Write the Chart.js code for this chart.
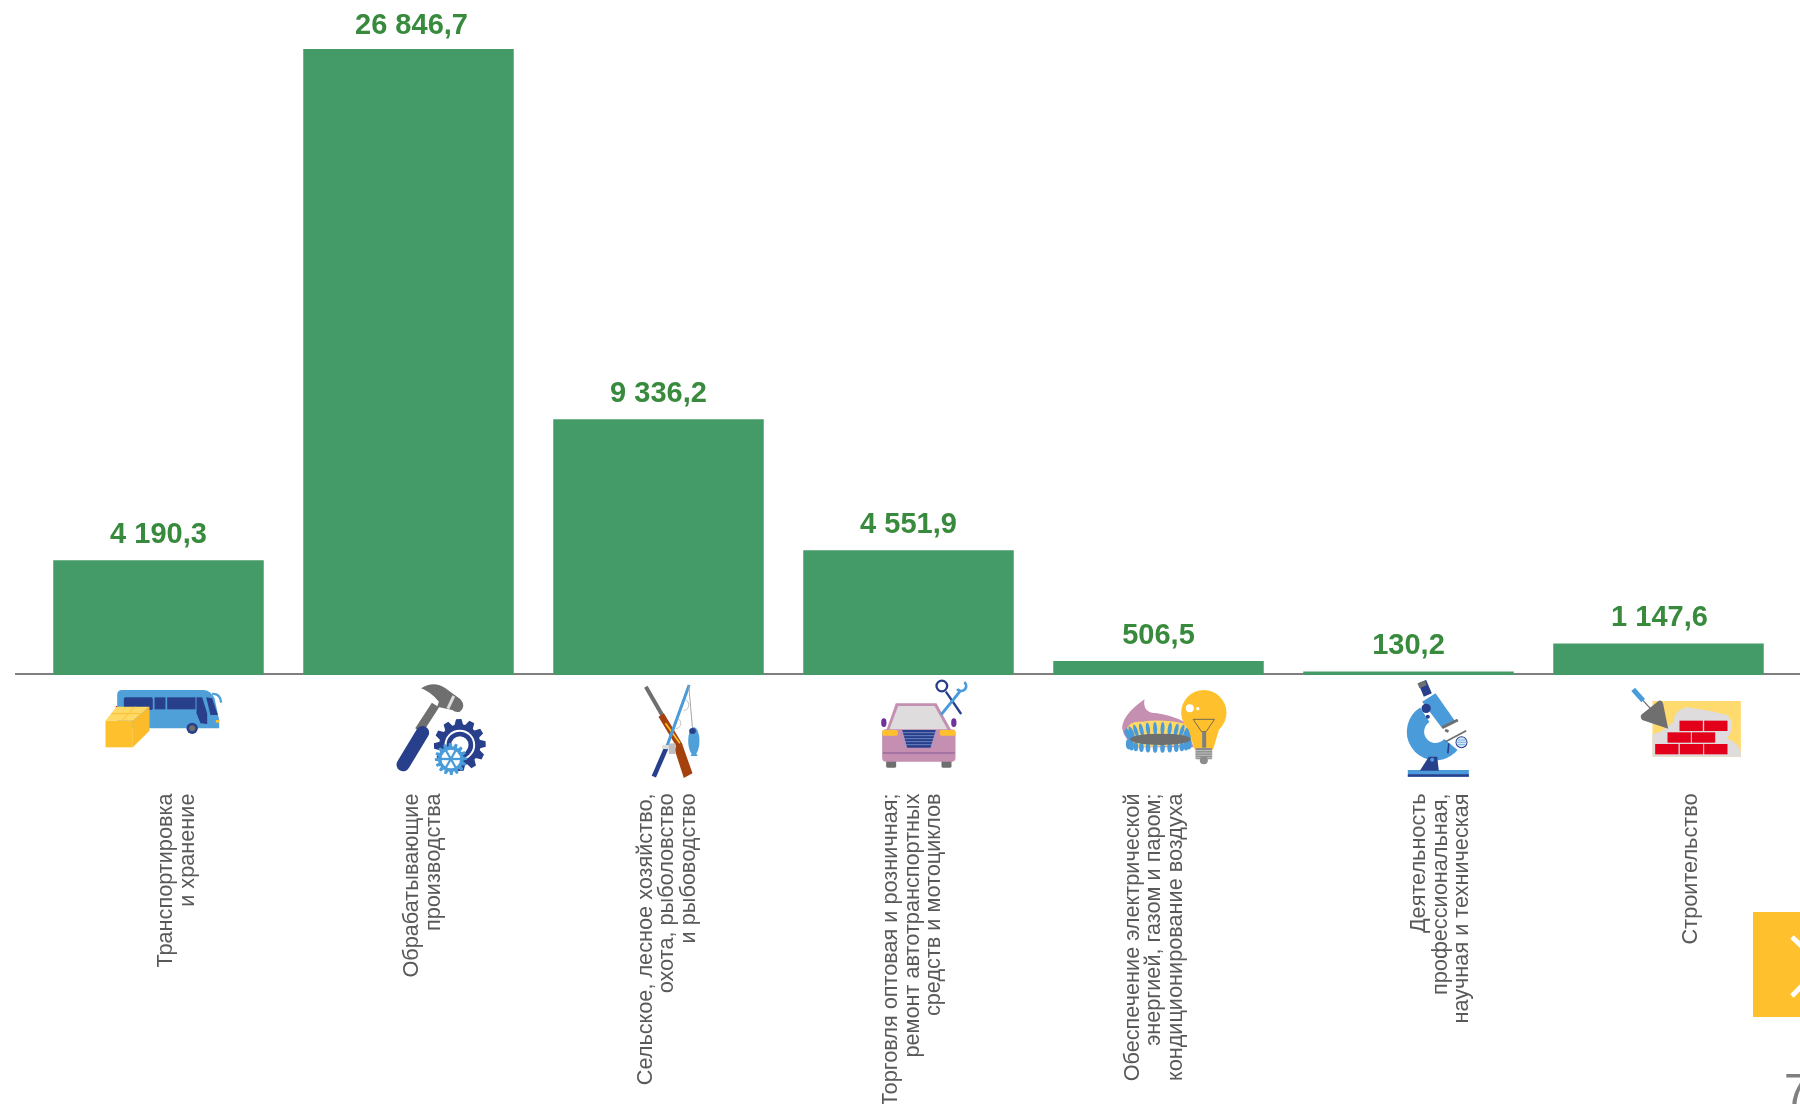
<!DOCTYPE html>
<html>
<head>
<meta charset="utf-8">
<title>Chart</title>
<script src="https://cdn.jsdelivr.net/npm/chart.js@4"></script>
<style>
  html, body { margin: 0; padding: 0; background: #fff; overflow: hidden; }
  canvas { display: block; }
</style>
</head>
<body>
<canvas id="chart" width="1800" height="1104"></canvas>
<script>
const categories = [
  ['Транспортировка', 'и хранение'],
  ['Обрабатывающие', 'производства'],
  ['Сельское, лесное хозяйство,', 'охота, рыболовство', 'и рыбоводство'],
  ['Торговля оптовая и розничная;', 'ремонт автотранспортных', 'средств и мотоциклов'],
  ['Обеспечение электрической', 'энергией, газом и паром;', 'кондиционирование воздуха'],
  ['Деятельность', 'профессиональная,', 'научная и техническая'],
  ['Строительство']
];
const values = [4190.3, 26846.7, 9336.2, 4551.9, 506.5, 130.2, 1147.6];
// the tall bar runs off the top of the axis in the original
const axisMax = 22850;

// how far each label block sits from the middle of its bar
const labelShift = [18.5, 14.5, 9, 4.5, -4, 32.5, 33];
const valueShift = [0, 3, 0, 0, 0, 0, 1];

const GREEN = '#459b68';
const BLUE = '#4f9fd8';
const NAVY = '#28408c';
const YELLOW = '#ffc02d';
const PALE = '#ffd966';
const GREY = '#6f6f6f';
const PINK = '#c48fb0';
const LIGHT = '#dedcdc';

const fmt = (v) => v.toFixed(1).replace('.', ',').replace(/\B(?=(\d{3})+(?!\d))/, ' ');

function poly(ctx, pts, fill) {
  ctx.beginPath();
  pts.forEach((p, i) => (i ? ctx.lineTo(p[0], p[1]) : ctx.moveTo(p[0], p[1])));
  ctx.closePath();
  ctx.fillStyle = fill;
  ctx.fill();
}
function line(ctx, x1, y1, x2, y2, w, color, cap) {
  ctx.beginPath();
  ctx.moveTo(x1, y1);
  ctx.lineTo(x2, y2);
  ctx.lineWidth = w;
  ctx.strokeStyle = color;
  ctx.lineCap = cap || 'butt';
  ctx.stroke();
}
function dot(ctx, x, y, r, fill) {
  ctx.beginPath();
  ctx.arc(x, y, r, 0, Math.PI * 2);
  ctx.fillStyle = fill;
  ctx.fill();
}
function rect(ctx, x, y, w, h, fill, r) {
  ctx.beginPath();
  ctx.roundRect(x, y, w, h, r || 0);
  ctx.fillStyle = fill;
  ctx.fill();
}
function gear(ctx, cx, cy, rOut, rIn, teeth, fill) {
  ctx.beginPath();
  for (let i = 0; i < teeth; i++) {
    const a = (i / teeth) * Math.PI * 2;
    const s = (Math.PI * 2) / teeth;
    [[rIn, -0.5], [rOut, -0.28], [rOut, 0.12], [rIn, 0.3]].forEach((p) => {
      const t = a + p[1] * s;
      ctx.lineTo(cx + p[0] * Math.cos(t), cy + p[0] * Math.sin(t));
    });
  }
  ctx.closePath();
  ctx.fillStyle = fill;
  ctx.fill();
}

// icons are drawn at 3x, origin = offset from bar middle / baseline
const icons = [
  { dx: -68, dy: -15, draw(ctx) {
    rect(ctx, 76, 138, 6, 16, '#e2001a');
    ctx.beginPath();
    ctx.moveTo(80, 205); ctx.lineTo(80, 105);
    ctx.quadraticCurveTo(80, 90, 95, 90);
    ctx.lineTo(340, 90);
    ctx.quadraticCurveTo(362, 92, 372, 115);
    ctx.lineTo(386, 180); ctx.lineTo(386, 205);
    ctx.closePath();
    ctx.fillStyle = BLUE;
    ctx.fill();
    rect(ctx, 100, 112, 87, 38, NAVY, 5);
    rect(ctx, 192, 112, 33, 36, NAVY);
    rect(ctx, 230, 112, 85, 36, NAVY);
    poly(ctx, [[318, 112], [335, 112], [350, 160], [350, 192], [330, 190], [318, 160]], NAVY);
    poly(ctx, [[347, 112], [365, 115], [382, 165], [360, 165]], NAVY);
    ctx.beginPath();
    ctx.moveTo(365, 102);
    ctx.quadraticCurveTo(390, 100, 392, 128);
    ctx.lineWidth = 7; ctx.strokeStyle = BLUE; ctx.stroke();
    dot(ctx, 305, 205, 17, NAVY);
    dot(ctx, 305, 205, 9, GREY);
    rect(ctx, 376, 180, 10, 8, YELLOW);
    poly(ctx, [[45, 182], [127, 182], [127, 262], [45, 262]], YELLOW);
    poly(ctx, [[127, 182], [177, 140], [177, 212], [127, 262]], '#fbbb2b');
    poly(ctx, [[45, 182], [78, 140], [177, 140], [127, 182]], PALE);
    line(ctx, 95, 182, 133, 140, 3, YELLOW);
    line(ctx, 62, 161, 152, 161, 3, YELLOW);
  } },
  { dx: -318, dy: -15, draw(ctx) {
    line(ctx, 1035, 135, 985, 212, 26, GREY);
    line(ctx, 996, 218, 938, 314, 40, NAVY, 'round');
    ctx.beginPath();
    ctx.moveTo(992, 85);
    ctx.quadraticCurveTo(1030, 60, 1065, 85);
    ctx.lineTo(1110, 118);
    ctx.quadraticCurveTo(1128, 140, 1108, 155);
    ctx.quadraticCurveTo(1095, 158, 1085, 150);
    ctx.lineTo(1040, 140);
    ctx.lineTo(1045, 125);
    ctx.quadraticCurveTo(1020, 95, 992, 85);
    ctx.fillStyle = GREY;
    ctx.fill();
    line(ctx, 1090, 108, 1072, 146, 9, LIGHT);
    gear(ctx, 1108, 255, 78, 62, 12, NAVY);
    dot(ctx, 1108, 255, 46, '#fff');
    dot(ctx, 1108, 255, 40, NAVY);
    dot(ctx, 1108, 255, 26, '#fff');
    gear(ctx, 1081, 297, 48, 38, 16, '#4a9bda');
    dot(ctx, 1081, 297, 28, '#fff');
    for (let i = 0; i < 6; i++) {
      const a = (i * Math.PI) / 3;
      line(ctx, 1081, 297, 1081 + 32 * Math.cos(a), 297 + 32 * Math.sin(a), 7, '#4a9bda');
    }
  } },
  { dx: -38, dy: -15, draw(ctx) {
    line(ctx, 76, 80, 125, 165, 12, GREY);
    line(ctx, 122, 165, 178, 258, 19, '#a5410f');
    poly(ctx, [[160, 262], [185, 252], [216, 340], [190, 354]], '#a5410f');
    line(ctx, 135, 190, 178, 250, 5, YELLOW);
    line(ctx, 100, 350, 138, 262, 14, NAVY);
    line(ctx, 136, 268, 206, 75, 9, '#4a9bda');
    line(ctx, 205, 78, 216, 205, 3, '#a6a6a6');
    ctx.beginPath();
    ctx.ellipse(220, 243, 17, 41, 0, 0, Math.PI * 2);
    ctx.fillStyle = BLUE;
    ctx.fill();
    poly(ctx, [[220, 270], [232, 288], [210, 288]], BLUE);
    ctx.beginPath();
    ctx.ellipse(216, 213, 10, 9, 0, 0, Math.PI * 2);
    ctx.fillStyle = NAVY;
    ctx.fill();
    rect(ctx, 125, 255, 40, 12, LIGHT);
    rect(ctx, 145, 250, 20, 32, '#bfbfbf');
    ctx.beginPath();
    ctx.arc(165, 190, 16, -1.2, 1.5);
    ctx.lineWidth = 2; ctx.strokeStyle = '#a6a6a6'; ctx.stroke();
    ctx.beginPath();
    ctx.arc(188, 135, 17, -1.2, 1.5);
    ctx.stroke();
  } },
  { dx: -288, dy: -15, draw(ctx) {
    ctx.beginPath();
    ctx.ellipse(790, 188, 8, 13, 0, 0, Math.PI * 2);
    ctx.ellipse(1000, 188, 8, 13, 0, 0, Math.PI * 2);
    ctx.fillStyle = '#7030a0';
    ctx.fill();
    poly(ctx, [[797, 212], [826, 130], [948, 130], [993, 212]], PINK);
    poly(ctx, [[806, 210], [833, 138], [942, 138], [982, 210]], LIGHT);
    rect(ctx, 797, 300, 30, 23, GREY, 4);
    rect(ctx, 963, 300, 30, 23, GREY, 4);
    rect(ctx, 785, 208, 220, 97, PINK, 12);
    rect(ctx, 785, 210, 47, 17, YELLOW, 5);
    rect(ctx, 958, 210, 47, 17, YELLOW, 5);
    poly(ctx, [[845, 210], [946, 210], [930, 263], [860, 263]], NAVY);
    for (let y = 218; y < 263; y += 9) line(ctx, 845, y, 946, y, 2, '#8fa5d8');
    line(ctx, 787, 279, 1003, 279, 4, '#9b6aa0');
    ctx.beginPath();
    ctx.arc(964, 78, 16, 0, Math.PI * 2);
    ctx.lineWidth = 7; ctx.strokeStyle = NAVY; ctx.stroke();
    line(ctx, 976, 95, 1022, 162, 7, NAVY);
    line(ctx, 1018, 95, 962, 164, 9, '#4a9bda');
    ctx.beginPath();
    ctx.arc(1022, 78, 15, -0.9, 2.5);
    ctx.lineWidth = 8; ctx.strokeStyle = '#4a9bda'; ctx.stroke();
  } },
  { dx: -58, dy: -15, draw(ctx) {
    ctx.beginPath();
    ctx.moveTo(65, 205);
    ctx.quadraticCurveTo(65, 165, 132, 118);
    ctx.quadraticCurveTo(125, 160, 170, 160);
    ctx.quadraticCurveTo(210, 165, 250, 185);
    ctx.lineTo(280, 262); ctx.lineTo(110, 262);
    ctx.quadraticCurveTo(70, 240, 65, 205);
    ctx.fillStyle = PINK;
    ctx.fill();
    ctx.beginPath();
    ctx.moveTo(75, 215);
    ctx.quadraticCurveTo(85, 180, 125, 185);
    ctx.quadraticCurveTo(190, 175, 270, 195);
    ctx.lineTo(275, 255); ctx.lineTo(110, 262);
    ctx.closePath();
    ctx.fillStyle = PALE;
    ctx.fill();
    ctx.fillStyle = '#4a9bda';
    for (let i = 0; i < 14; i++) {
      const a = Math.PI + (i / 13) * Math.PI;
      ctx.beginPath();
      ctx.ellipse(175 + 92 * Math.cos(a), 228 + 22 * Math.sin(a), 6, 20, (i - 6.5) * 0.09, 0, Math.PI * 2);
      ctx.fill();
      ctx.beginPath();
      ctx.ellipse(175 + 92 * Math.cos(a), 252 - 12 * Math.sin(a), 7, 14, 0, 0, Math.PI * 2);
      ctx.fill();
    }
    ctx.beginPath();
    ctx.ellipse(180, 238, 92, 17, 0, 0, Math.PI * 2);
    ctx.fillStyle = GREY;
    ctx.fill();
    dot(ctx, 310, 158, 68, YELLOW);
    poly(ctx, [[262, 200], [358, 200], [338, 268], [282, 268]], YELLOW);
    rect(ctx, 285, 264, 50, 34, '#8c8c8c', 4);
    for (let y = 272; y < 296; y += 7) line(ctx, 285, y, 335, y, 2, LIGHT);
    dot(ctx, 310, 301, 12, '#8c8c8c');
    dot(ctx, 268, 145, 12, '#fff');
    dot(ctx, 292, 146, 5, '#fff');
    ctx.beginPath();
    ctx.moveTo(278, 178); ctx.lineTo(342, 178); ctx.lineTo(317, 215); ctx.lineTo(303, 215); ctx.closePath();
    ctx.lineWidth = 2.5; ctx.strokeStyle = '#595959'; ctx.stroke();
    rect(ctx, 305, 215, 12, 48, '#7f7f7f');
  } },
  { dx: -308, dy: -15, draw(ctx) {
    rect(ctx, 922, 330, 183, 20, '#4a9bda');
    rect(ctx, 922, 343, 183, 7, NAVY);
    line(ctx, 965, 65, 982, 105, 26, NAVY);
    line(ctx, 962, 66, 968, 80, 24, GREY);
    ctx.beginPath();
    ctx.arc(1005, 215, 60, 1.32 * Math.PI, 0.22 * Math.PI, true);
    ctx.lineWidth = 52; ctx.strokeStyle = '#4a9bda'; ctx.stroke();
    poly(ctx, [[965, 125], [1005, 100], [1065, 185], [1025, 205]], '#4a9bda');
    poly(ctx, [[958, 332], [985, 290], [1010, 290], [1015, 332]], NAVY);
    dot(ctx, 995, 299, 6, '#4a9bda');
    dot(ctx, 977, 145, 14, NAVY);
    dot(ctx, 982, 170, 6, NAVY);
    line(ctx, 1025, 203, 1072, 180, 9, GREY);
    line(ctx, 1034, 210, 1044, 215, 8, GREY);
    line(ctx, 1035, 245, 1097, 212, 5, GREY);
    line(ctx, 1045, 250, 1042, 280, 5, NAVY);
    dot(ctx, 1083, 247, 18, NAVY);
    dot(ctx, 1083, 247, 15, '#d7e7f5');
    line(ctx, 1070, 247, 1096, 247, 2, '#4a9bda');
    line(ctx, 1072, 240, 1094, 240, 2, '#4a9bda');
    line(ctx, 1072, 254, 1094, 254, 2, '#4a9bda');
  } },
  { dx: -98, dy: -15, draw(ctx) {
    rect(ctx, 276, 123, 265, 167, '#ffda6e');
    ctx.beginPath();
    ctx.moveTo(276, 290); ctx.lineTo(541, 290);
    ctx.quadraticCurveTo(545, 255, 500, 235);
    ctx.quadraticCurveTo(530, 195, 500, 165);
    ctx.quadraticCurveTo(440, 150, 380, 142);
    ctx.quadraticCurveTo(340, 150, 340, 185);
    ctx.lineTo(300, 215); ctx.lineTo(276, 222);
    ctx.closePath();
    ctx.fillStyle = LIGHT;
    ctx.fill();
    [[357, 182, 70], [431, 182, 70], [321, 217, 70], [394, 217, 70], [284, 252, 70], [358, 252, 70], [431, 252, 70]].forEach((b) => {
      rect(ctx, b[0], b[1], b[2], 31, '#e2001a');
    });
    ctx.beginPath();
    ctx.moveTo(295, 122);
    ctx.quadraticCurveTo(305, 120, 308, 132);
    ctx.lineTo(323, 206);
    ctx.lineTo(245, 180);
    ctx.quadraticCurveTo(236, 170, 245, 162);
    ctx.closePath();
    ctx.fillStyle = GREY;
    ctx.fill();
    line(ctx, 218, 88, 248, 122, 15, '#4a9bda');
    line(ctx, 248, 122, 272, 148, 4, GREY);
  } }
];

const decorPlugin = {
  id: 'decor',
  beforeDatasetsDraw(chart) {
    const ctx = chart.ctx;
    const base = chart.scales.y.getPixelForValue(0);
    ctx.save();
    line(ctx, 15, base - 1, 1800, base - 1, 2, '#7f7f7f');
    ctx.restore();
  },
  afterDatasetsDraw(chart) {
    const ctx = chart.ctx;
    const x = chart.scales.x;
    const y = chart.scales.y;
    const base = y.getPixelForValue(0);

    values.forEach((v, i) => {
      const cx = x.getPixelForValue(i);

      // value above the bar, the clipped one stays at the top of the area
      ctx.save();
      ctx.font = 'bold 29px "Liberation Sans", Arial, sans-serif';
      ctx.fillStyle = '#388a3d';
      ctx.textAlign = 'center';
      ctx.textBaseline = 'alphabetic';
      const labelY = v > axisMax ? y.top - 15 : y.getPixelForValue(v) - 17.5;
      ctx.fillText(fmt(v), cx + valueShift[i], labelY);
      ctx.restore();

      // icon under the axis
      ctx.save();
      ctx.translate(cx + icons[i].dx, base + icons[i].dy);
      ctx.scale(1 / 3, 1 / 3);
      icons[i].draw(ctx);
      ctx.restore();

      // rotated category label
      const lines = categories[i];
      lines.forEach((txt, j) => {
        ctx.save();
        ctx.translate(cx + labelShift[i] + (j - (lines.length - 1) / 2) * 21.5, 793.5);
        ctx.rotate(-Math.PI / 2);
        ctx.font = '21.7px "Liberation Sans", Arial, sans-serif';
        ctx.fillStyle = '#595959';
        ctx.textAlign = 'right';
        ctx.textBaseline = 'middle';
        ctx.fillText(txt, 0, 0);
        ctx.restore();
      });
    });

    // yellow next-page button and page number, cut by the right edge
    ctx.save();
    rect(ctx, 1753, 912, 47, 105, YELLOW);
    ctx.beginPath();
    ctx.moveTo(1792, 937);
    ctx.lineTo(1822, 965);
    ctx.lineTo(1792, 996);
    ctx.lineWidth = 5;
    ctx.strokeStyle = '#fff';
    ctx.stroke();
    ctx.font = '46px "Liberation Sans", Arial, sans-serif';
    ctx.fillStyle = '#808080';
    ctx.textAlign = 'left';
    ctx.textBaseline = 'alphabetic';
    ctx.fillText('7', 1784, 1106);
    ctx.restore();
  }
};

new Chart(document.getElementById('chart'), {
  type: 'bar',
  data: {
    labels: categories,
    datasets: [{
      data: values,
      backgroundColor: GREEN,
      borderWidth: 0,
      categoryPercentage: 1,
      barPercentage: 0.842
    }]
  },
  plugins: [decorPlugin],
  options: {
    responsive: false,
    animation: false,
    layout: { padding: { left: 33.5, right: 16.5, top: 49, bottom: 429 } },
    plugins: { legend: { display: false }, tooltip: { enabled: false } },
    scales: {
      x: { display: false },
      y: { display: false, min: 0, max: axisMax }
    }
  }
});
</script>
</body>
</html>
